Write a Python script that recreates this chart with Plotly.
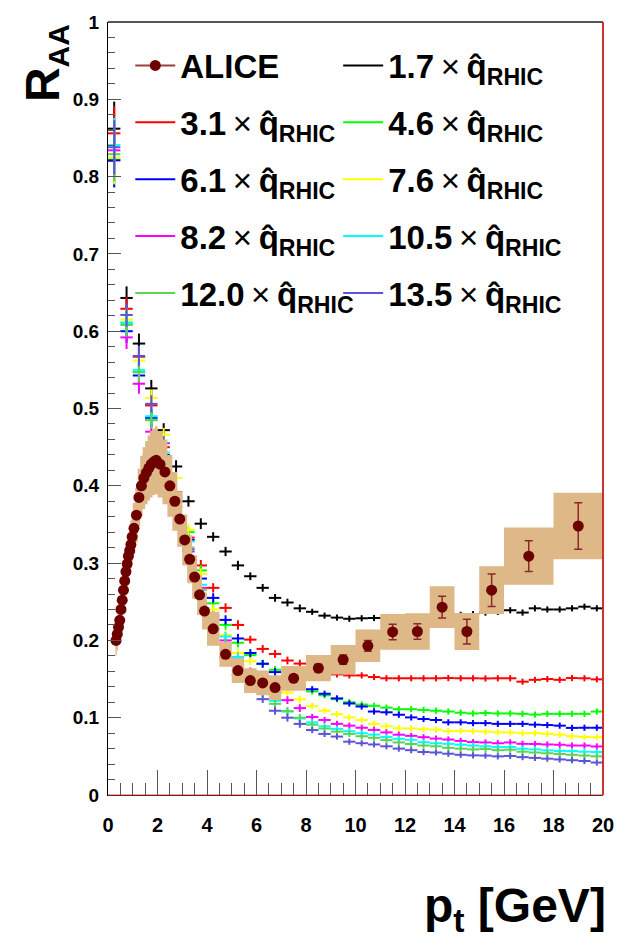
import plotly.graph_objects as go

# ---------------- ALICE data ----------------
pt_alice = [0.325, 0.375, 0.425, 0.475, 0.525, 0.575, 0.625, 0.675, 0.725, 0.775, 0.825, 0.875, 0.925, 0.975,
            1.05, 1.15, 1.25, 1.35, 1.45, 1.55, 1.65, 1.75, 1.85, 1.95,
            2.1, 2.3, 2.5, 2.7, 2.9, 3.1, 3.3, 3.5, 3.7, 3.9,
            4.25, 4.75, 5.25, 5.75, 6.25, 6.75,
            7.5, 8.5, 9.5, 10.5, 11.5, 12.5, 13.5, 14.5, 15.5, 17.0, 19.0]
halfbin_alice = [0.025] * 14 + [0.05] * 10 + [0.1] * 10 + [0.25] * 6 + [0.5] * 9 + [1.0] * 2
raa_alice = [0.200, 0.208, 0.217, 0.226, 0.240, 0.252, 0.265, 0.277, 0.289, 0.299, 0.309, 0.316, 0.324, 0.334,
             0.345, 0.362, 0.385, 0.400, 0.410, 0.417, 0.423, 0.428, 0.431, 0.433,
             0.428, 0.418, 0.400, 0.380, 0.357, 0.330, 0.305, 0.282, 0.259, 0.238,
             0.215, 0.182, 0.161, 0.148, 0.145, 0.139,
             0.151, 0.164, 0.175, 0.193, 0.211, 0.2115, 0.243, 0.2115, 0.265, 0.309, 0.348]
stat_alice = [0.002] * 40 + [0.004, 0.005, 0.006, 0.007, 0.010, 0.010, 0.014, 0.016, 0.021, 0.020, 0.030]
sys_alice = [0.020, 0.021, 0.021, 0.022, 0.023, 0.024, 0.025, 0.026, 0.027, 0.028, 0.029, 0.030, 0.031, 0.032,
             0.033, 0.035, 0.037, 0.039, 0.040, 0.041, 0.042, 0.043, 0.043, 0.044,
             0.043, 0.042, 0.040, 0.038, 0.036, 0.033, 0.031, 0.028, 0.026, 0.024,
             0.022, 0.016, 0.016, 0.016, 0.016, 0.016,
             0.016, 0.017, 0.019, 0.021, 0.023, 0.0235, 0.027, 0.024, 0.031, 0.037, 0.043]

# ---------------- theory curves ----------------
pt_theory = [0.25, 0.75, 1.25, 1.75, 2.25, 2.75, 3.25, 3.75, 4.25, 4.75,
             5.25, 5.75, 6.25, 6.75, 7.25, 7.75, 8.25, 8.75, 9.25, 9.75,
             10.25, 10.75, 11.25, 11.75, 12.25, 12.75, 13.25, 13.75, 14.25, 14.75,
             15.25, 15.75, 16.25, 16.75, 17.25, 17.75, 18.25, 18.75, 19.25, 19.75]
halfbin_theory = [0.25] * 40
err_theory = [0.035, 0.015, 0.013, 0.011, 0.009, 0.008, 0.007, 0.007, 0.006, 0.006,
              0.006, 0.005, 0.005, 0.005, 0.005, 0.005, 0.004, 0.004, 0.004, 0.004,
              0.004, 0.004, 0.004, 0.004, 0.004, 0.004, 0.004, 0.004, 0.004, 0.004,
              0.004, 0.004, 0.004, 0.004, 0.004, 0.004, 0.004, 0.004, 0.004, 0.004]

qhat_factors = ["1.7", "3.1", "4.6", "6.1", "7.6", "8.2", "10.5", "12.0", "13.5"]
raa_1p7 = [0.862, 0.643, 0.584, 0.526, 0.472, 0.425, 0.380, 0.351, 0.334, 0.315,
           0.297, 0.283, 0.268, 0.255, 0.249, 0.2415, 0.237, 0.232, 0.2295, 0.228,
           0.2286, 0.229, 0.229, 0.229, 0.230, 0.230, 0.231, 0.231, 0.233, 0.234,
           0.236, 0.237, 0.239, 0.236, 0.2415, 0.240, 0.240, 0.2415, 0.2436, 0.2415]
raa_3p1 = [0.856, 0.629, 0.567, 0.504, 0.450, 0.392, 0.333, 0.297, 0.268, 0.242,
           0.220, 0.201, 0.189, 0.1825, 0.174, 0.170, 0.165, 0.160, 0.156, 0.1547,
           0.1547, 0.1526, 0.151, 0.151, 0.151, 0.151, 0.151, 0.1513, 0.151, 0.151,
           0.1508, 0.151, 0.151, 0.1466, 0.149, 0.150, 0.149, 0.1513, 0.151, 0.1496]
raa_4p6 = [0.822, 0.611, 0.547, 0.485, 0.437, 0.386, 0.340, 0.2906, 0.248, 0.220,
           0.197, 0.181, 0.170, 0.162, 0.152, 0.143, 0.134, 0.129, 0.124, 0.120,
           0.117, 0.1154, 0.113, 0.111, 0.111, 0.110, 0.109, 0.108, 0.1065, 0.1055,
           0.106, 0.1055, 0.1055, 0.105, 0.104, 0.105, 0.105, 0.105, 0.105, 0.108]
raa_6p1 = [0.821, 0.600, 0.5427, 0.488, 0.440, 0.384, 0.330, 0.280, 0.255, 0.2265,
           0.2025, 0.1837, 0.1697, 0.159, 0.150, 0.142, 0.1368, 0.131, 0.125, 0.1184,
           0.1145, 0.108, 0.107, 0.1038, 0.1004, 0.0983, 0.097, 0.094, 0.094, 0.093,
           0.093, 0.092, 0.092, 0.092, 0.091, 0.0905, 0.0897, 0.0868, 0.087, 0.087]
raa_7p6 = [0.825, 0.615, 0.562, 0.5137, 0.466, 0.410, 0.343, 0.286, 0.240, 0.207,
           0.1837, 0.173, 0.156, 0.143, 0.1325, 0.1237, 0.115, 0.109, 0.1045, 0.1004,
           0.097, 0.092, 0.0889, 0.0863, 0.086, 0.085, 0.0846, 0.0825, 0.083, 0.0825,
           0.082, 0.0812, 0.081, 0.080, 0.080, 0.079, 0.078, 0.076, 0.075, 0.0748]
raa_8p2 = [0.834, 0.592, 0.532, 0.470, 0.428, 0.372, 0.318, 0.268, 0.232, 0.200,
           0.178, 0.160, 0.145, 0.133, 0.1227, 0.1124, 0.101, 0.097, 0.092, 0.0897,
           0.087, 0.0842, 0.081, 0.078, 0.0765, 0.0748, 0.073, 0.0718, 0.070, 0.0684,
           0.068, 0.067, 0.068, 0.0662, 0.066, 0.0654, 0.065, 0.064, 0.064, 0.0628]
raa_10p5 = [0.841, 0.611, 0.550, 0.490, 0.443, 0.382, 0.328, 0.272, 0.232, 0.205,
            0.178, 0.157, 0.138, 0.1218, 0.108, 0.099, 0.094, 0.0889, 0.0855, 0.0825,
            0.080, 0.0782, 0.075, 0.0727, 0.0714, 0.0684, 0.067, 0.0662, 0.065, 0.064,
            0.063, 0.062, 0.062, 0.0598, 0.059, 0.0577, 0.057, 0.0568, 0.056, 0.0556]
raa_12p0 = [0.829, 0.608, 0.547, 0.485, 0.438, 0.378, 0.320, 0.265, 0.228, 0.195,
            0.168, 0.148, 0.131, 0.118, 0.1085, 0.100, 0.091, 0.086, 0.082, 0.079,
            0.076, 0.074, 0.071, 0.068, 0.066, 0.064, 0.063, 0.061, 0.060, 0.059,
            0.0595, 0.058, 0.0586, 0.056, 0.055, 0.054, 0.053, 0.052, 0.051, 0.050]
raa_13p5 = [0.838, 0.621, 0.568, 0.506, 0.455, 0.388, 0.315, 0.255, 0.215, 0.178,
            0.155, 0.138, 0.124, 0.109, 0.100, 0.092, 0.084, 0.079, 0.0756, 0.069,
            0.067, 0.0654, 0.063, 0.060, 0.058, 0.0556, 0.055, 0.0534, 0.052, 0.0513,
            0.051, 0.050, 0.0505, 0.049, 0.048, 0.047, 0.046, 0.045, 0.044, 0.042]

theory_series = [raa_1p7, raa_3p1, raa_4p6, raa_6p1, raa_7p6, raa_8p2, raa_10p5, raa_12p0, raa_13p5]
theory_colors = ["#000000", "#ff0000", "#00ff00", "#0000ff", "#ffff00",
                 "#ff00ff", "#00ffff", "#59d454", "#5954d8"]

x_ticks = [0, 2, 4, 6, 8, 10, 12, 14, 16, 18, 20]
y_ticks = [0, 0.1, 0.2, 0.3, 0.4, 0.5, 0.6, 0.7, 0.8, 0.9, 1]

FONT = "Liberation Sans, Arial, Helvetica, sans-serif"
ALICE_COLOR = "#6e0000"
SYS_COLOR = "#deb887"

fig = go.Figure()

# theory crosses (drawn first, under the systematic boxes)
for vals, col in zip(theory_series, theory_colors):
    fig.add_trace(go.Scatter(
        x=pt_theory, y=vals, mode="markers",
        marker=dict(size=0.1, color=col, opacity=0),
        error_x=dict(type="data", array=halfbin_theory, color=col, thickness=2, width=0),
        error_y=dict(type="data", array=err_theory, color=col, thickness=2, width=0),
        showlegend=False, hoverinfo="skip"))

# systematic boxes
bx, by = [], []
for x, w, y, s in zip(pt_alice, halfbin_alice, raa_alice, sys_alice):
    bx += [x - w, x + w, x + w, x - w, x - w, None]
    by += [y - s, y - s, y + s, y + s, y - s, None]
fig.add_trace(go.Scatter(x=bx, y=by, mode="lines", fill="toself", fillcolor=SYS_COLOR,
                         line=dict(width=0, color=SYS_COLOR), showlegend=False, hoverinfo="skip"))

# ALICE points
fig.add_trace(go.Scatter(
    x=pt_alice, y=raa_alice, mode="markers",
    marker=dict(size=11, color=ALICE_COLOR),
    error_y=dict(type="data", array=stat_alice, color="#8b2a2a", thickness=1.5, width=4),
    showlegend=False))

# legend entries
def label(f):
    return (f"{f}<span style='font-weight:normal'>\u2009×\u2009</span>q\u0302<sub>RHIC</sub>")

fig.add_trace(go.Scatter(x=[None], y=[None], mode="lines+markers", name="ALICE",
                         line=dict(color="#9a4040", width=2),
                         marker=dict(size=11, color=ALICE_COLOR),
                         legend="legend", legendgroup="a"))
col1 = [1, 3, 5, 7]
col2 = [0, 2, 4, 6, 8]
for i in col1:
    fig.add_trace(go.Scatter(x=[None], y=[None], mode="lines", name=label(qhat_factors[i]),
                             line=dict(color=theory_colors[i], width=2),
                             legend="legend", legendgroup=f"g{i}"))
for i in col2:
    fig.add_trace(go.Scatter(x=[None], y=[None], mode="lines", name=label(qhat_factors[i]),
                             line=dict(color=theory_colors[i], width=2),
                             legend="legend2", legendgroup=f"g{i}"))

leg_common = dict(font=dict(family=FONT, size=33, color="black", weight="bold"),
                  bgcolor="rgba(0,0,0,0)", borderwidth=0, orientation="v",
                  traceorder="grouped", tracegroupgap=11, itemwidth=40,
                  xanchor="left", yanchor="top", itemclick=False)
fig.update_layout(
    legend=dict(x=0.045, y=0.980, **leg_common),
    legend2=dict(x=0.465, y=0.980, **leg_common),
)

fig.update_layout(
    width=626, height=947,
    margin=dict(l=108, r=18, t=15, b=152),
    paper_bgcolor="white", plot_bgcolor="white",
    xaxis=dict(range=[0, 20], tickvals=x_ticks, ticks="inside", ticklen=25, tickwidth=1,
               tickcolor="#555555", showgrid=False, zeroline=False,
               showline=True, linecolor="black", linewidth=1, mirror=False,
               tickfont=dict(family=FONT, size=20, color="black", weight="bold"),
               ticklabelstandoff=12,
               minor=dict(dtick=0.5, ticks="inside", ticklen=12, tickcolor="#555555", showgrid=False)),
    yaxis=dict(range=[0, 1], tickvals=y_ticks, ticks="inside", ticklen=13, tickwidth=1,
               tickcolor="#555555", showgrid=False, zeroline=False,
               showline=True, linecolor="black", linewidth=1,
               tickfont=dict(family=FONT, size=19, color="black", weight="bold"),
               ticklabelstandoff=4,
               minor=dict(dtick=0.02, ticks="inside", ticklen=7, tickcolor="#555555", showgrid=False)),
    showlegend=True,
)

# frame: top gray, right red
fig.add_shape(type="line", xref="paper", yref="paper", x0=0, x1=1, y0=1, y1=1,
              line=dict(color="#555555", width=2))
fig.add_shape(type="line", xref="paper", yref="paper", x0=1, x1=1, y0=0, y1=1,
              line=dict(color="#d03030", width=2))
fig.add_shape(type="line", xref="paper", yref="paper", x0=0, x1=1, y0=0, y1=0,
              line=dict(color="#e04040", width=1))

# axis titles
fig.add_annotation(text="R<sub><span style='font-size:30px'>AA</span></sub>",
                   xref="paper", yref="paper", x=-0.125, y=0.947, showarrow=False,
                   textangle=-90, xanchor="center", yanchor="middle",
                   font=dict(family=FONT, size=48, color="black", weight="bold"))
fig.add_annotation(text="p<sub>t</sub> [GeV]",
                   xref="paper", yref="paper", x=1.01, y=-0.148, showarrow=False,
                   xanchor="right", yanchor="middle",
                   font=dict(family=FONT, size=48, color="black", weight="bold"))

fig.write_html("out.html")
